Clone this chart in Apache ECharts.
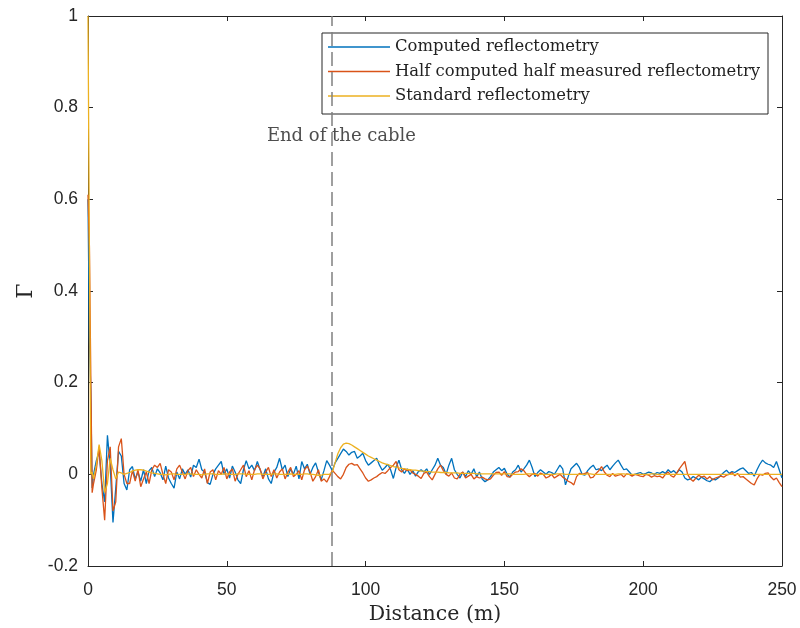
<!DOCTYPE html>
<html>
<head>
<meta charset="utf-8">
<script src="https://cdn.jsdelivr.net/npm/echarts@6/dist/echarts.min.js"></script>
<style>html,body{margin:0;padding:0;background:#fff}#c{width:800px;height:628px}</style>
</head>
<body>
<div id="c"></div>
<script>
// Sampling grid (m): half-metre steps near the source, then 1 m steps
const nearDistance = [0, 0.5, 1, 1.5, 2];
const distance = nearDistance.slice();
for (let d = 3; d <= 250; d++) distance.push(d);

const seriesNames = ['Computed reflectometry', 'Half computed half measured reflectometry', 'Standard reflectometry'];
const xTicks = [0, 50, 100, 150, 200, 250];
const yTicks = [-0.2, 0, 0.2, 0.4, 0.6, 0.8, 1];
const cableEnd = 87.7;
const cableLabel = 'End of the cable';
const cableLabelAt = [91.3, 0.738];

const computed = [
 0.6, 0.3, 0.18, -0.03, 0.0,
 0.03, 0.05, -0.02, -0.06, 0.085, 0.02, -0.105, -0.03, 0.05, 0.04, -0.02, -0.034,
 0.01, 0.017, -0.01, 0.005, -0.015, 0.01, -0.02, 0.008, 0.015, -0.005,
 0.012, 0.003, -0.012, 0.018, -0.008, -0.02, -0.03, 0.005, -0.01, 0.012,
 0.0, 0.01, -0.006, 0.02, 0.015, 0.033, 0.01, 0.005, -0.018, -0.022,
 0.0, 0.012, 0.02, 0.028, 0.0, 0.012, -0.008, 0.018, 0.005, -0.012,
 -0.02, 0.01, 0.03, 0.012, 0.02, 0.008, 0.028, 0.01, -0.005, 0.012,
 -0.01, -0.02, 0.005, 0.015, 0.035, 0.01, 0.02, -0.005, 0.012, 0.0,
 0.018, -0.01, 0.028, 0.012, 0.022, 0.0, 0.015, 0.025, 0.005, -0.012, 0.008,
 0.03, 0.02, 0.008, 0.025, 0.035, 0.045, 0.055, 0.05, 0.042, 0.048,
 0.05, 0.035, 0.04, 0.046, 0.03, 0.02, 0.025, 0.03, 0.035, 0.02,
 0.009, 0.015, 0.022, 0.01, -0.009, 0.015, 0.031, 0.01, 0.002, 0.012,
 0.0, 0.008, -0.004, 0.006, 0.01, 0.005, 0.012, 0.0, 0.01, 0.02,
 0.035, 0.02, 0.015, 0.0, 0.02, 0.035, 0.01, 0.0, -0.008, 0.005,
 -0.005, 0.008, 0.0, 0.012, -0.005, 0.005, -0.01, -0.016, -0.012, -0.005,
 0.005, 0.01, 0.015, 0.008, 0.013, 0.0, -0.006, 0.005, 0.01, 0.02,
 0.005, 0.012, 0.02, 0.031, 0.015, -0.005, 0.004, 0.01, 0.005, 0.0,
 0.006, 0.004, 0.0, 0.01, 0.02, 0.012, -0.023, -0.005, 0.012, 0.018,
 0.024, 0.015, 0.0, -0.002, 0.008, 0.015, 0.02, 0.01, 0.012, 0.008,
 0.015, 0.02, 0.01, 0.018, 0.025, 0.031, 0.02, 0.01, 0.012, 0.005,
 -0.002, 0.0, 0.002, 0.004, 0.0, 0.002, 0.005, 0.003, 0.0, 0.004,
 0.002, 0.006, 0.002, 0.01, 0.004, 0.008, 0.002, 0.01, 0.005, -0.008,
 -0.012, -0.01, -0.005, -0.008, -0.012, -0.006, -0.01, -0.014, -0.016, -0.01,
 -0.012, -0.008, -0.002, 0.004, 0.009, 0.002, 0.006, 0.004, 0.008, 0.012,
 0.014, 0.008, 0.002, 0.004, -0.004, 0.01, 0.022, 0.031, 0.025, 0.022,
 0.02, 0.015, 0.028, 0.01, -0.008
];

const halfMeasured = [
 0.61, 0.5, 0.22, -0.04, -0.02,
 0.01, 0.06, -0.03, -0.10, 0.03, 0.06, -0.08, -0.06, 0.06, 0.078, 0.0, -0.02,
 -0.02, 0.008, -0.015, 0.01, -0.027, -0.01, 0.005, -0.02, 0.01, 0.02,
 0.015, 0.024, 0.0, -0.02, 0.01, 0.005, -0.012, 0.012, 0.02, 0.005,
 -0.01, 0.008, 0.015, -0.005, 0.01, 0.0, -0.008, 0.012, -0.02, 0.005,
 0.01, -0.012, 0.008, 0.0, 0.015, -0.01, 0.005, 0.012, -0.015, 0.0,
 0.01, 0.02, -0.005, 0.008, -0.012, 0.01, 0.02, 0.012, -0.01, 0.005,
 0.015, -0.005, 0.01, -0.008, 0.005, 0.012, -0.01, 0.005, 0.015, -0.005,
 0.0, 0.008, -0.012, 0.01, 0.018, 0.005, -0.015, -0.005, 0.01, -0.015, -0.01,
 -0.017, -0.005, 0.009, 0.002, -0.005, -0.01, 0.0, 0.015, 0.022, 0.024,
 0.02, 0.021, 0.012, 0.003, -0.008, -0.015, -0.012, -0.008, -0.005, 0.0,
 0.004, 0.002, 0.008, 0.015, 0.02, 0.028, 0.01, 0.005, 0.012, 0.008,
 0.01, 0.003, 0.0, -0.004, -0.009, 0.002, 0.005, -0.005, -0.012, 0.0,
 0.012, 0.02, 0.008, 0.0, -0.004, 0.003, -0.008, -0.01, 0.0, 0.005,
 -0.008, -0.004, 0.0, -0.01, -0.005, -0.008, -0.006, -0.01, -0.012, -0.01,
 -0.002, 0.004, 0.005, -0.002, 0.006, -0.005, -0.006, 0.0, 0.005, 0.006,
 0.012, 0.008, 0.0, -0.005, 0.0, 0.002, -0.004, 0.003, 0.0, -0.008,
 -0.005, 0.0, -0.008, -0.004, 0.0, -0.006, -0.01, -0.015, -0.018, -0.023,
 -0.005, 0.002, 0.0, 0.002, 0.004, -0.008, -0.006, 0.002, 0.008, 0.017,
 0.005, -0.002, -0.005, 0.002, -0.004, -0.002, 0.0, -0.006, 0.001, 0.0,
 -0.004, 0.0, -0.002, -0.004, -0.005, 0.0, -0.002, -0.006, -0.003, -0.005,
 -0.004, -0.008, 0.0, 0.005, -0.003, -0.006, 0.002, 0.012, 0.02, 0.028,
 0.0, -0.01, -0.015, -0.008, -0.002, -0.006, -0.004, -0.01, -0.005, -0.012,
 -0.008, -0.006, -0.004, -0.006, -0.002, 0.0, 0.004, -0.003, 0.002, -0.006,
 -0.005, -0.01, -0.015, -0.02, -0.023, -0.01, 0.0, -0.002, 0.002, 0.003,
 -0.006, -0.012, -0.008, -0.018, -0.027
];

const standard = [
 1.0, 0.5, 0.0, 0.005, -0.01,
 0.02, 0.065, 0.03, -0.04, -0.02, 0.035, 0.01, -0.01, 0.005, 0.003, 0.0, 0.002,
 0.004, 0.007, 0.009, 0.01, 0.01, 0.009, 0.007, 0.005, 0.003, 0.002,
 0.001, 0.0, 0.0, -0.001, 0.0, 0.001, 0.001, 0.0, 0.0, 0.0,
 0.0, 0.001, 0.001, 0.0, 0.0, 0.0, -0.001, 0.0, 0.001, 0.001,
 0.001, 0.0, 0.0, 0.0, 0.001, 0.001, 0.0, 0.0, 0.0, 0.001,
 0.001, 0.001, 0.0, 0.0, 0.0, 0.0, 0.001, 0.001, 0.0, 0.0,
 0.0, 0.0, 0.001, 0.001, 0.0, 0.0, 0.0, 0.0, 0.001, 0.0,
 0.0, 0.0, 0.0, 0.001, 0.001, 0.0, 0.0, -0.001, -0.002, -0.002, 0.0,
 0.0, 0.0, 0.005, 0.025, 0.045, 0.058, 0.066, 0.068, 0.067, 0.064,
 0.06, 0.056, 0.052, 0.048, 0.044, 0.04, 0.037, 0.034, 0.031, 0.028,
 0.025, 0.023, 0.021, 0.019, 0.017, 0.016, 0.014, 0.013, 0.012, 0.011,
 0.01, 0.009, 0.009, 0.008, 0.007, 0.007, 0.006, 0.006, 0.005, 0.005,
 0.005, 0.004, 0.004, 0.004, 0.003, 0.003, 0.003, 0.003, 0.002, 0.002,
 0.002, 0.002, 0.002, 0.002, 0.001, 0.001, 0.001, 0.001, 0.001, 0.001,
 0.001, 0.001, 0.001, 0.001, 0.001, 0.001, 0.001, 0.0, 0.0, 0.0,
 0.0, 0.0, 0.001, 0.001, 0.001, 0.0, 0.0, 0.0, 0.0, 0.0,
 0.0, 0.0, 0.0, 0.001, 0.001, 0.001, 0.0, 0.0, 0.0, 0.0,
 0.0, 0.0, 0.0, 0.0, 0.001, 0.001, 0.0, 0.0, 0.0, 0.0,
 0.0, 0.0, 0.0, 0.0, 0.0, 0.001, 0.001, 0.001, 0.0, 0.0,
 0.0, 0.0, 0.0, 0.0, 0.0, 0.0, 0.0, 0.001, 0.001, 0.0,
 0.0, 0.0, 0.0, 0.0, 0.0, 0.0, 0.0, 0.0, 0.0, 0.0,
 0.0, 0.0, 0.0, 0.0, 0.0, 0.0, 0.0, 0.0, 0.0, 0.0,
 0.0, 0.0, 0.0, 0.0, 0.0, 0.0, 0.0, 0.0, 0.0, 0.0,
 0.0, 0.0, 0.0, 0.0, 0.0, 0.0, 0.0, 0.0, 0.0, 0.0,
 0.0, 0.0, 0.0, 0.0, 0.0
];

const colors = ['#0072BD', '#D95319', '#EDB120'];
const pair = vals => distance.map((d, i) => [d, vals[i]]);
const serif = '"DejaVu Serif", "Liberation Serif", serif';
const sans = '"Liberation Sans", Arial, sans-serif';
const axisColor = '#262626';

const chart = echarts.init(document.getElementById('c'), null, { renderer: 'canvas' });
const lineSeries = [computed, halfMeasured, standard].map((vals, i) => ({
  name: seriesNames[i],
  type: 'line',
  data: pair(vals),
  showSymbol: false,
  symbol: 'none',
  xAxisIndex: 0, yAxisIndex: 0,
  lineStyle: { color: colors[i], width: 1.3 },
  itemStyle: { color: colors[i] },
  z: 2 + i
}));

chart.setOption({
  animation: false,
  backgroundColor: '#fff',
  grid: { left: 88, right: 18, top: 16, bottom: 62, containLabel: false, outerBoundsMode: 'none' },
  legend: {
    data: seriesNames,
    orient: 'vertical',
    left: 322, top: 33,
    icon: 'rect',
    itemWidth: 62, itemHeight: 1.5,
    itemGap: 8.5,
    padding: [6, 8, 10, 6],
    borderColor: axisColor, borderWidth: 1,
    backgroundColor: '#fff',
    textStyle: { fontFamily: serif, fontSize: 16.4, color: '#222' },
    selectedMode: false
  },
  xAxis: [{
    type: 'value', min: 0, max: 250, interval: 50, position: 'bottom',
    name: 'Distance (m)', nameLocation: 'middle', nameGap: 29,
    nameTextStyle: { fontFamily: serif, fontSize: 20.5, color: axisColor },
    axisLine: { show: true, onZero: false, lineStyle: { color: axisColor, width: 1 } },
    axisTick: { show: true, inside: true, length: 5, lineStyle: { color: axisColor } },
    axisLabel: { margin: 15, fontFamily: sans, fontSize: 17.5, color: axisColor,
                 formatter: v => xTicks.includes(v) ? String(v) : '' },
    splitLine: { show: false }
  }, {
    type: 'value', min: 0, max: 250, interval: 50, position: 'top',
    axisLine: { show: true, onZero: false, lineStyle: { color: axisColor, width: 1 } },
    axisTick: { show: true, inside: true, length: 5, lineStyle: { color: axisColor } },
    axisLabel: { show: false }, splitLine: { show: false }
  }],
  yAxis: [{
    type: 'value', min: -0.2, max: 1, interval: 0.2, position: 'left',
    name: 'Γ', nameLocation: 'middle', nameGap: 50,
    nameTextStyle: { fontFamily: serif, fontSize: 22, color: axisColor },
    axisLine: { show: true, onZero: false, lineStyle: { color: axisColor, width: 1 } },
    axisTick: { show: true, inside: true, length: 5, lineStyle: { color: axisColor } },
    axisLabel: { margin: 10, fontFamily: sans, fontSize: 17.5, color: axisColor,
                 formatter: v => { const t = yTicks.find(k => Math.abs(k - v) < 1e-6); return t === undefined ? '' : String(t); } },
    splitLine: { show: false }
  }, {
    type: 'value', min: -0.2, max: 1, interval: 0.2, position: 'right',
    axisLine: { show: true, onZero: false, lineStyle: { color: axisColor, width: 1 } },
    axisTick: { show: true, inside: true, length: 5, lineStyle: { color: axisColor } },
    axisLabel: { show: false }, splitLine: { show: false }
  }],
  series: lineSeries.concat([{
    name: 'annotation',
    type: 'scatter',
    xAxisIndex: 0, yAxisIndex: 0,
    data: [cableLabelAt],
    symbolSize: 0,
    z: 10,
    label: { show: true, position: 'inside', formatter: cableLabel,
             fontFamily: serif, fontSize: 18, color: '#222' },
    markLine: {
      silent: true, symbol: ['none', 'none'],
      label: { show: false },
      lineStyle: { color: '#808080', width: 1.5, type: [14, 6] },
      data: [{ xAxis: cableEnd }]
    }
  }])
});
</script>
</body>
</html>
